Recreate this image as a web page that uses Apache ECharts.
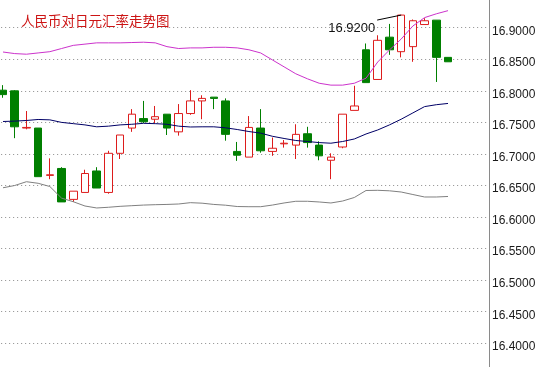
<!DOCTYPE html>
<html>
<head>
<meta charset="utf-8">
<style>
html,body{margin:0;padding:0;background:#fff;}
#main{width:541px;height:367px;}
</style>
<script src="https://cdn.jsdelivr.net/npm/echarts@6/dist/echarts.min.js"></script>
</head>
<body>
<div id="main"></div>
<script>
const titleText = '人民币对日元汇率走势图';
const categories = [];
for (let i = 1; i <= 42; i++) categories.push(String(i));

const openVals  = [16.801,16.800,16.741,16.741,16.666,16.677,16.628,16.639,16.673,16.639,16.701,16.741,16.756,16.755,16.763,16.735,16.764,16.784,16.790,16.784,16.704,16.695,16.741,16.704,16.716,16.714,16.732,16.714,16.690,16.711,16.769,16.865,16.818,16.885,16.862,16.870,16.905,16.912,16.853];
const closeVals = [16.794,16.743,16.742,16.664,16.667,16.624,16.641,16.669,16.646,16.701,16.730,16.763,16.751,16.759,16.741,16.764,16.784,16.788,16.788,16.731,16.698,16.742,16.705,16.709,16.717,16.731,16.718,16.697,16.695,16.763,16.776,16.813,16.880,16.865,16.920,16.911,16.911,16.853,16.846];
const lowVals   = [16.789,16.725,16.739,16.664,16.660,16.624,16.624,16.639,16.646,16.637,16.692,16.735,16.749,16.749,16.730,16.729,16.762,16.755,16.771,16.721,16.689,16.695,16.702,16.697,16.710,16.692,16.710,16.690,16.660,16.709,16.769,16.813,16.818,16.857,16.853,16.846,16.905,16.814,16.846];
const highVals  = [16.809,16.801,16.768,16.741,16.693,16.679,16.641,16.675,16.679,16.705,16.730,16.771,16.784,16.776,16.763,16.779,16.801,16.793,16.790,16.788,16.719,16.760,16.771,16.726,16.722,16.747,16.743,16.720,16.701,16.763,16.808,16.875,16.888,16.906,16.920,16.913,16.915,16.912,16.853];

const upperBand  = [16.8615,16.859,16.858,16.860,16.862,16.867,16.872,16.874,16.876,16.876,16.876,16.8765,16.877,16.876,16.870,16.867,16.868,16.868,16.869,16.869,16.868,16.865,16.860,16.849,16.838,16.827,16.819,16.812,16.809,16.809,16.812,16.820,16.8457,16.8647,16.882,16.9027,16.916,16.922,16.927];
const middleBand = [16.7514,16.752,16.753,16.7546,16.754,16.750,16.748,16.746,16.743,16.744,16.746,16.747,16.7485,16.748,16.747,16.744,16.7427,16.743,16.743,16.7414,16.7387,16.7355,16.733,16.728,16.7245,16.7213,16.7197,16.718,16.717,16.7197,16.7237,16.7316,16.738,16.746,16.755,16.765,16.775,16.778,16.780];
const lowerBand  = [16.6464,16.650,16.656,16.6535,16.6484,16.630,16.6243,16.6175,16.6144,16.6155,16.617,16.618,16.619,16.6196,16.620,16.6207,16.6228,16.622,16.620,16.6188,16.6167,16.6164,16.6164,16.619,16.6223,16.625,16.625,16.6239,16.6223,16.6254,16.631,16.6421,16.6424,16.6416,16.6397,16.6357,16.6318,16.6318,16.6326];

const yTickMin = 16.40, yTickMax = 16.90;

const candleData = openVals.map((o, i) => [o, closeVals[i], lowVals[i], highVals[i]]);

const chart = echarts.init(document.getElementById('main'), null, {renderer: 'canvas'});
chart.setOption({
  animation: false,
  backgroundColor: '#ffffff',
  title: {
    text: titleText,
    left: 21, top: 14, padding: 0,
    textStyle: {fontFamily: 'Noto Sans CJK SC', fontSize: 13.5, fontWeight: 'normal', color: '#cc1414'}
  },
  grid: {left: -2.85, width: 491.85, top: -3.86, height: 378.72, containLabel: false, outerBoundsMode: 'none'},
  xAxis: {
    type: 'category', data: categories, boundaryGap: true,
    axisLine: {show: false}, axisTick: {show: false}, axisLabel: {show: false}, splitLine: {show: false}
  },
  yAxis: {
    type: 'value', position: 'right', min: 16.35, max: 16.95, interval: 0.05, scale: true,
    axisLine: {show: true, lineStyle: {color: '#8a8a8a', width: 1}},
    axisTick: {show: false},
    axisLabel: {
      margin: 3, verticalAlign: 'top', lineHeight: 7,
      fontFamily: 'Liberation Sans', fontSize: 12, color: '#1a1a1a',
      formatter: v => (v < yTickMin - 1e-9 || v > yTickMax + 1e-9) ? '' : v.toFixed(4)
    },
    splitLine: {show: true, lineStyle: {color: '#8c8c8c', type: [1, 3], width: 1}}
  },
  series: [
    {
      type: 'line', data: upperBand, symbol: 'none', silent: true,
      lineStyle: {color: '#cc33cc', width: 1}, z: 3
    },
    {
      type: 'line', data: middleBand, symbol: 'none', silent: true,
      lineStyle: {color: '#000066', width: 1}, z: 3
    },
    {
      type: 'line', data: lowerBand, symbol: 'none', silent: true,
      lineStyle: {color: '#808080', width: 1}, z: 3
    },
    {
      type: 'candlestick', data: candleData, barWidth: 8, z: 2,
      itemStyle: {
        color: '#ffffff', color0: '#007f00',
        borderColor: '#dd1c1c', borderColor0: '#007f00', borderWidth: 1
      }
    }
  ]
});

// annotation of the highest price, placed through the chart's own scales
let maxIdx = 0;
highVals.forEach((h, i) => { if (h > highVals[maxIdx]) maxIdx = i; });
const p = chart.convertToPixel({gridIndex: 0}, [maxIdx, highVals[maxIdx]]);
chart.setOption({
  graphic: [
    {type: 'line', shape: {x1: p[0] - 24, y1: p[1] + 5, x2: p[0], y2: p[1]},
     style: {stroke: '#000', lineWidth: 1}, z: 10},
    {type: 'text', x: p[0] - 26, y: p[1] + 13,
     style: {text: highVals[maxIdx].toFixed(4), fill: '#111', font: '13px "Liberation Sans"',
             textAlign: 'right', textVerticalAlign: 'middle'}, z: 10}
  ]
});
</script>
</body>
</html>
